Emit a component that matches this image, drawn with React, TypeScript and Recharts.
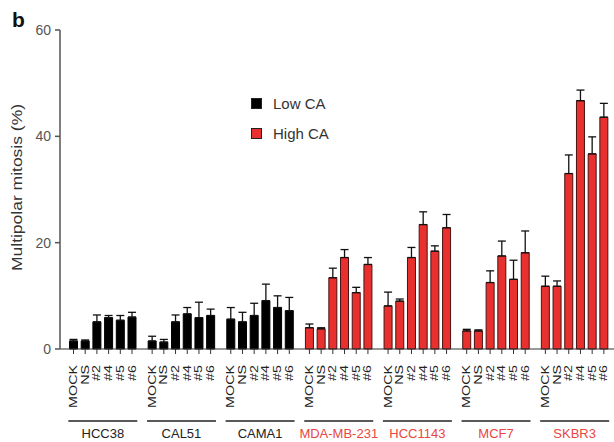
import { BarChart, Bar, XAxis, YAxis, ErrorBar, Cell, LabelList, Legend } from 'recharts'

// cell lines, grouped by centrosome amplification level
const cellLines = ['HCC38', 'CAL51', 'CAMA1', 'MDA-MB-231', 'HCC1143', 'MCF7', 'SKBR3']
const caLevel = ['Low CA', 'Low CA', 'Low CA', 'High CA', 'High CA', 'High CA', 'High CA']
const conditions = ['MOCK', 'NS', '#2', '#4', '#5', '#6']

// multipolar mitosis (%) per condition, one value per cell line
const mockVals = [1.5, 1.5, 5.6, 4.0, 8.1, 3.4, 11.8]
const nsVals = [1.5, 1.3, 5.1, 3.8, 9.0, 3.4, 11.8]
const si2Vals = [5.1, 5.1, 6.3, 13.4, 17.2, 12.5, 33.0]
const si4Vals = [5.9, 6.6, 9.1, 17.2, 23.4, 17.5, 46.7]
const si5Vals = [5.4, 5.9, 7.8, 10.6, 18.4, 13.1, 36.7]
const si6Vals = [6.0, 6.3, 7.2, 15.9, 22.8, 18.1, 43.6]

// upper error (s.e.m.)
const mockErr = [0.3, 0.9, 2.2, 0.7, 2.6, 0.3, 1.9]
const nsErr = [0.2, 0.5, 1.8, 0.2, 0.4, 0.2, 1.0]
const si2Err = [1.3, 1.3, 2.3, 1.8, 1.9, 2.2, 3.5]
const si4Err = [0.4, 1.2, 3.1, 1.5, 2.4, 2.8, 2.0]
const si5Err = [0.9, 2.9, 2.2, 1.0, 1.0, 3.6, 3.2]
const si6Err = [0.9, 1.2, 2.5, 1.3, 2.5, 4.1, 2.6]

const yTicks = [0, 20, 40, 60]
const legendItems = ['Low CA', 'High CA']

const seriesValues = [mockVals, nsVals, si2Vals, si4Vals, si5Vals, si6Vals]
const seriesErrors = [mockErr, nsErr, si2Err, si4Err, si5Err, si6Err]

const font = 'Liberation Sans, Arial, Helvetica, sans-serif'

const colors: Record<string, { fill: string; stroke: string; text: string }> = {
  'Low CA': { fill: '#000000', stroke: '#000000', text: '#222222' },
  'High CA': { fill: '#e8312e', stroke: '#4a1212', text: '#e8463f' },
}

const rows = cellLines.map((line, i) => {
  const row: any = { line, ca: caLevel[i] }
  conditions.forEach((_, j) => {
    row[`v${j}`] = seriesValues[j][i]
    row[`e${j}`] = [0, seriesErrors[j][i]]
  })
  return row
})

// small tick + rotated condition name under every bar
function barLabel(text: string) {
  return (props: any) => {
    const vb = props.viewBox ?? {}
    const x = Number(props.x ?? vb.x)
    const y = Number(props.y ?? vb.y)
    const w = Number(props.width ?? vb.width)
    const h = Number(props.height ?? vb.height)
    const cx = x + w / 2
    const base = y + h
    return (
      <g>
        <line x1={cx} x2={cx} y1={base} y2={base + 5} stroke="#333" strokeWidth={1} />
        <text
          transform={`translate(${cx + 3.5},${base + 16}) rotate(-90) scale(1.3,1)`}
          textAnchor="end"
          fontSize={11}
          fontFamily={font}
          fill="#222"
        >
          {text}
        </text>
      </g>
    )
  }
}

// group underline + cell line name
function GroupTick(props: any) {
  const { x, y, payload, index } = props
  const c = colors[caLevel[index]] ?? colors['Low CA']
  return (
    <g>
      <line x1={x - 34.5} x2={x + 34.5} y1={y + 72} y2={y + 72} stroke="#222" strokeWidth={1.3} />
      <text x={x} y={y + 89} textAnchor="middle" fontSize={13} fontFamily={font} fill={c.text}>
        {payload.value}
      </text>
    </g>
  )
}

function YLabel(props: any) {
  const vb = props.viewBox ?? { x: 0, y: 30, width: 60, height: 319 }
  const cy = vb.y + vb.height / 2 - 2
  return (
    <text
      transform={`translate(22,${cy}) rotate(-90) scale(1.25,1)`}
      textAnchor="middle"
      fontSize={14}
      fontFamily={font}
      fill="#333"
    >
      Multipolar mitosis (%)
    </text>
  )
}

function renderLegend() {
  return (
    <div style={{ fontFamily: font, fontSize: 15, color: '#333' }}>
      {legendItems.map((item) => (
        <div key={item} style={{ display: 'flex', alignItems: 'center', height: 30 }}>
          <span
            style={{
              display: 'inline-block',
              width: 9,
              height: 9,
              background: colors[item].fill,
              border: '1px solid #222',
              marginRight: 11,
            }}
          />
          <span>{item}</span>
        </div>
      ))}
    </div>
  )
}

export default function App() {
  return (
    <div style={{ position: 'absolute', left: 0, top: 0, width: 614, height: 442, background: '#fff' }}>
      <div style={{ position: 'absolute', left: 12, top: 8, fontFamily: font, fontWeight: 700, fontSize: 21, color: '#111', zIndex: 2 }}>
        b
      </div>
      <BarChart
        width={614}
        height={442}
        data={rows}
        margin={{ top: 30, right: 0, bottom: 0, left: 0 }}
        barSize={8}
        barGap={3.7}
        barCategoryGap={0}
      >
        <XAxis
          dataKey="line"
          height={93}
          interval={0}
          tickLine={false}
          tickSize={0}
          tickMargin={0}
          axisLine={{ stroke: '#333', strokeWidth: 1.2 }}
          padding={{ left: 3.5, right: 0 }}
          tick={(p: any) => <GroupTick {...p} />}
        />
        <YAxis
          width={60}
          domain={[0, 60]}
          ticks={yTicks}
          tickSize={5}
          tickMargin={4}
          tick={{ fontSize: 14, fill: '#555', fontFamily: font }}
          tickLine={{ stroke: '#555', strokeWidth: 1.5 }}
          axisLine={{ stroke: '#555', strokeWidth: 1.5 }}
          label={<YLabel />}
        />
        <Legend
          layout="vertical"
          align="center"
          verticalAlign="middle"
          content={renderLegend}
          wrapperStyle={{ left: 251, top: 88, width: 'auto' }}
        />
        {conditions.map((cond, j) => (
          <Bar key={cond} dataKey={`v${j}`} name={cond} strokeWidth={1} isAnimationActive={false}>
            {rows.map((r, i) => (
              <Cell key={i} fill={colors[r.ca].fill} stroke={colors[r.ca].stroke} />
            ))}
            <ErrorBar dataKey={`e${j}`} direction="y" width={4} stroke="#111" strokeWidth={1.3} />
            <LabelList dataKey={`v${j}`} content={barLabel(cond)} />
          </Bar>
        ))}
      </BarChart>
    </div>
  )
}
